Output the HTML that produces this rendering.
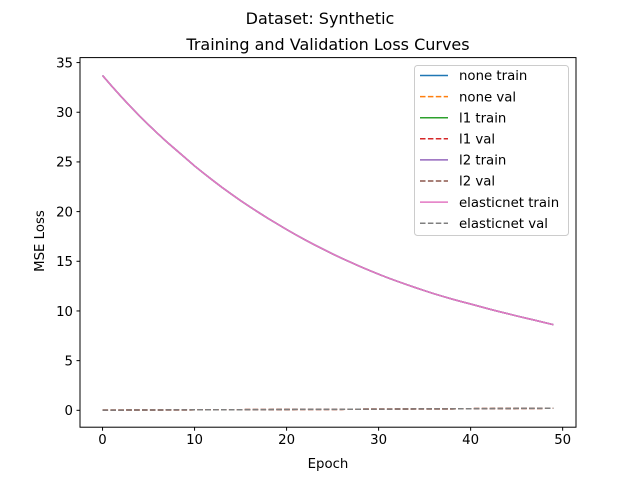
<!DOCTYPE html>
<html><head><meta charset="utf-8"><style>
body{margin:0;background:#fff}
svg{display:block;font-family:"DejaVu Sans","Liberation Sans",sans-serif}
</style></head><body>
<svg id="c" width="640" height="480" viewBox="0 0 640 480">
<text x="320" y="24" font-size="16" text-anchor="middle">Dataset: Synthetic</text>
<text x="328" y="50" font-size="16" text-anchor="middle">Training and Validation Loss Curves</text>
<text x="328" y="468" font-size="13.3" text-anchor="middle">Epoch</text>
<text transform="translate(44,241) rotate(-90)" font-size="13.3" text-anchor="middle">MSE Loss</text>
<g id="plot"></g>
<rect x="80" y="57.6" width="496" height="369.6" fill="none" stroke="#000" stroke-width="1"/>
<g id="legend"></g>
</svg>
<script>
const epochs = Array.from({length:50},(_,i)=>i);
const trainLoss = [33.7,32.63,31.6,30.6,29.65,28.73,27.85,27.0,26.2,25.4,
24.6,23.85,23.13,22.43,21.76,21.11,20.49,19.89,19.31,18.75,
18.2,17.67,17.16,16.67,16.2,15.74,15.3,14.88,14.47,14.08,
13.7,13.34,13.0,12.67,12.35,12.04,11.74,11.46,11.19,10.94,
10.7,10.45,10.2,9.96,9.73,9.5,9.28,9.06,8.84,8.62];
const valLoss = [0.02,0.02,0.02,0.03,0.03,0.03,0.03,0.04,0.04,0.04,
0.05,0.05,0.05,0.06,0.06,0.06,0.07,0.07,0.07,0.08,
0.08,0.09,0.09,0.09,0.1,0.1,0.1,0.11,0.11,0.12,
0.12,0.12,0.13,0.13,0.14,0.14,0.14,0.15,0.15,0.16,
0.16,0.17,0.17,0.18,0.18,0.19,0.19,0.2,0.2,0.21];
const xTicks = [0,10,20,30,40,50];
const yTicks = [0,5,10,15,20,25,30,35];
const seriesNames = ["none train","none val","l1 train","l1 val","l2 train","l2 val","elasticnet train","elasticnet val"];
const seriesColors = ["#1f77b4","#ff7f0e","#2ca02c","#d62728","#9467bd","#8c564b","#e377c2","#7f7f7f"];

const X0=80,X1=576,Y0=57.6,Y1=427.2;
const xmin=-2.45,xmax=51.45,ymin=-1.7,ymax=35.5;
const sx=v=>X0+(v-xmin)/(xmax-xmin)*(X1-X0);
const sy=v=>Y1-(v-ymin)/(ymax-ymin)*(Y1-Y0);
const NS="http://www.w3.org/2000/svg";
const plot=document.getElementById('plot');
const mk=(t,a,p)=>{const e=document.createElementNS(NS,t);for(const k in a)e.setAttribute(k,a[k]);(p||plot).appendChild(e);return e;};

xTicks.forEach(t=>{
  mk('line',{x1:sx(t),x2:sx(t),y1:Y1,y2:Y1+3.5,stroke:'#000'});
  const tx=mk('text',{x:sx(t),y:Y1+17,'font-size':13.3,'text-anchor':'middle'});
  tx.textContent=t;
  
  
});
yTicks.forEach(t=>{
  mk('line',{x1:X0-3.5,x2:X0,y1:sy(t),y2:sy(t),stroke:'#000'});
  const tx=mk('text',{x:X0-7,y:sy(t)+4.8,'font-size':13.3,'text-anchor':'end'});
  tx.textContent=t;
  
  
});

seriesNames.forEach((n,i)=>{
  const isVal=n.endsWith('val');
  const data=isVal?valLoss:trainLoss;
  const pts=epochs.map((e,j)=>sx(e).toFixed(2)+','+sy(data[j]).toFixed(2)).join(' ');
  const pl=mk('polyline',{points:pts,fill:'none',stroke:seriesColors[i],'stroke-width':1.5});
  if(isVal)pl.setAttribute('stroke-dasharray','5.5,2.4');
  
  
});

const lg=document.getElementById('legend');
const box=mk('rect',{x:414.5,y:65.5,width:154,height:170,rx:3,fill:'#fff','fill-opacity':0.8,stroke:'#ccc'},lg);


seriesNames.forEach((n,i)=>{
  const y=75.5+i*21.1;
  const l=mk('line',{x1:420,x2:448,y1:y,y2:y,stroke:seriesColors[i],'stroke-width':1.5},lg);
  if(n.endsWith('val'))l.setAttribute('stroke-dasharray','5.5,2.4');
  const t=mk('text',{x:459,y:y+4.7,'font-size':13.3},lg);
  t.textContent=n;
  
  
});
</script>
</body></html>
